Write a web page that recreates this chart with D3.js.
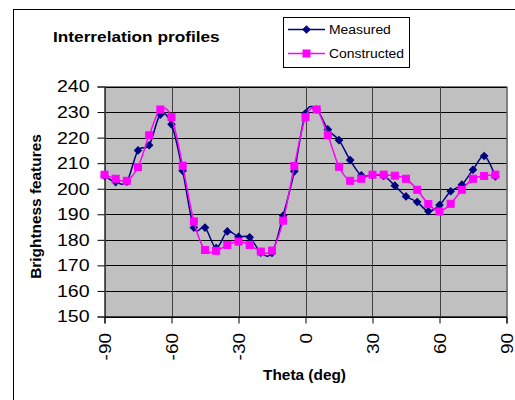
<!DOCTYPE html>
<html>
<head>
<meta charset="utf-8">
<script src="https://cdn.jsdelivr.net/npm/d3@7"></script>
<style>
  html, body { margin: 0; padding: 0; background: #fff; }
  svg { display: block; font-family: "Liberation Sans", Arial, sans-serif; }
</style>
</head>
<body>
<svg id="chart" width="515" height="400"></svg>
<script>
// ---- data ----
const theta = [-90, -85, -80, -75, -70, -65, -60, -55, -50, -45, -40, -35, -30, -25, -20, -15, -10, -5,
               0, 5, 10, 15, 20, 25, 30, 35, 40, 45, 50, 55, 60, 65, 70, 75, 80, 85];
const measured = [205, 202.6, 202.8, 215, 217, 229, 225.2, 207, 184.8, 184.8, 176.8, 183.3, 181.2, 181, 175, 174.9, 189.5, 206.8,
                  229.5, 231, 223.2, 219, 211.2, 205.2, 205.3, 205, 201.2, 197, 194.8, 191.2, 193.6, 199, 201.6, 207.4, 212.8, 204.8];
const constructed = [205.5, 203.9, 203.1, 208.5, 220.9, 231, 228, 209, 187.2, 176, 175.7, 178, 179.3, 178, 175.4, 175.8, 187.5, 208.9,
                     228, 231, 220.9, 208.6, 203.1, 203.9, 205.5, 205.5, 205.1, 203.9, 199.6, 194, 191.1, 194.1, 199.6, 203.9, 205, 205.5];
const xTicks = [-90, -60, -30, 0, 30, 60, 90];
const yTicks = [150, 160, 170, 180, 190, 200, 210, 220, 230, 240];
const seriesNames = ["Measured", "Constructed"];
const seriesColors = ["#000080", "#FF00FF"];
const titleText = "Interrelation profiles";
const xTitle = "Theta (deg)";
const yTitle = "Brightness features";

// ---- layout ----
const svg = d3.select("#chart");
const plot = { left: 104.5, right: 506.5, top: 86.5, bottom: 316.5 };
const x = d3.scaleLinear().domain([-90, 90]).range([plot.left, plot.right]);
const y = d3.scaleLinear().domain([150, 240]).range([plot.bottom, plot.top]);
const SX = 1.15; // horizontal text stretch
const fmt = d => String(d);

// outer chart border
svg.append("rect").attr("x", 13.5).attr("y", 9.5).attr("width", 700).attr("height", 700)
  .attr("fill", "#fff").attr("stroke", "#000").attr("stroke-width", 1);

// plot area
svg.append("rect").attr("x", plot.left).attr("y", plot.top)
  .attr("width", plot.right - plot.left).attr("height", plot.bottom - plot.top)
  .attr("fill", "#C0C0C0").attr("stroke", "#808080").attr("stroke-width", 1);

// horizontal gridlines
svg.append("g").selectAll("line").data(yTicks).join("line")
  .attr("x1", plot.left).attr("x2", plot.right)
  .attr("y1", d => Math.round(y(d)) + 0.5).attr("y2", d => Math.round(y(d)) + 0.5)
  .attr("stroke", "#000").attr("stroke-width", 1);

// vertical gridlines
svg.append("g").selectAll("line").data(xTicks).join("line")
  .attr("y1", plot.top).attr("y2", plot.bottom)
  .attr("x1", d => Math.round(x(d)) + 0.5).attr("x2", d => Math.round(x(d)) + 0.5)
  .attr("stroke", d => (d === 90 ? "#808080" : "#404040")).attr("stroke-width", 1);

// axes
const yAxis = d3.axisLeft(y).tickValues(yTicks).tickSize(7).tickPadding(8).tickFormat(fmt);
const gy = svg.append("g").attr("transform", `translate(${plot.left},0)`).call(yAxis);
gy.select(".domain").attr("stroke", "#404040");
gy.selectAll(".tick line").attr("stroke", "#000");
gy.selectAll(".tick text")
  .attr("font-size", 17).attr("fill", "#000")
  .attr("font-family", '"Liberation Sans", Arial, sans-serif')
  .each(function() {
    const t = d3.select(this);
    const xx = +t.attr("x");
    t.attr("x", null).attr("transform", `translate(${xx},0) scale(${SX},1)`);
  });

const xAxis = d3.axisBottom(x).tickValues(xTicks).tickSize(7).tickFormat(fmt);
const gx = svg.append("g").attr("transform", `translate(0,${plot.bottom})`).call(xAxis);
gx.select(".domain").attr("stroke", "#000");
gx.selectAll(".tick line").attr("stroke", "#000");
gx.selectAll(".tick text")
  .attr("font-size", 16.5).attr("fill", "#000")
  .attr("font-family", '"Liberation Sans", Arial, sans-serif')
  .attr("text-anchor", "end")
  .attr("x", null).attr("y", null).attr("dy", "0.35em")
  .attr("transform", `translate(0,16.5) rotate(-90) scale(${SX},1)`);

// titles
svg.append("text").attr("transform", `translate(53,42) scale(${SX},1)`)
  .attr("font-size", 15).attr("font-weight", "bold").text(titleText);
svg.append("text").attr("transform", `translate(${(plot.left + plot.right) / 2 - 1},380) scale(1.1,1)`)
  .attr("text-anchor", "middle").attr("font-size", 14).attr("font-weight", "bold").text(xTitle);
svg.append("text").attr("transform", `translate(41,${(plot.top + plot.bottom) / 2 + 5}) rotate(-90) scale(1.1,1)`)
  .attr("text-anchor", "middle").attr("font-size", 14).attr("font-weight", "bold").text(yTitle);

// series
const line = d3.line().x((d, i) => x(theta[i])).y(d => y(d)).curve(d3.curveCatmullRom.alpha(0));
const seriesData = [measured, constructed];

function drawMarker(g, cx, cy, idx) {
  if (idx === 0) {
    g.append("path").attr("d", d3.symbol().type(d3.symbolSquare).size(26)())
      .attr("transform", `translate(${cx},${cy}) rotate(45)`)
      .attr("fill", seriesColors[0]).attr("stroke", seriesColors[0]).attr("stroke-width", 1);
  } else {
    g.append("rect").attr("x", cx - 3.5).attr("y", cy - 3.5).attr("width", 7).attr("height", 7)
      .attr("fill", seriesColors[1]).attr("stroke", seriesColors[1]).attr("stroke-width", 1);
  }
}

seriesData.forEach((vals, si) => {
  const g = svg.append("g");
  g.append("path").datum(vals).attr("d", line)
    .attr("fill", "none").attr("stroke", seriesColors[si]).attr("stroke-width", 1.5);
  vals.forEach((v, i) => drawMarker(g, x(theta[i]), y(v), si));
});

// legend
const lg = svg.append("g");
lg.append("rect").attr("x", 283.5).attr("y", 17.5).attr("width", 126).attr("height", 50)
  .attr("fill", "#fff").attr("stroke", "#000").attr("stroke-width", 1);
seriesNames.forEach((name, i) => {
  const cy = 29.5 + i * 24;
  lg.append("line").attr("x1", 288).attr("x2", 325).attr("y1", cy).attr("y2", cy)
    .attr("stroke", seriesColors[i]).attr("stroke-width", 1.5);
  drawMarker(lg, 306.5, cy, i);
  lg.append("text").attr("transform", `translate(329,${cy + 4.5}) scale(1.16,1)`)
    .attr("font-size", 12).text(name);
});
</script>
</body>
</html>
